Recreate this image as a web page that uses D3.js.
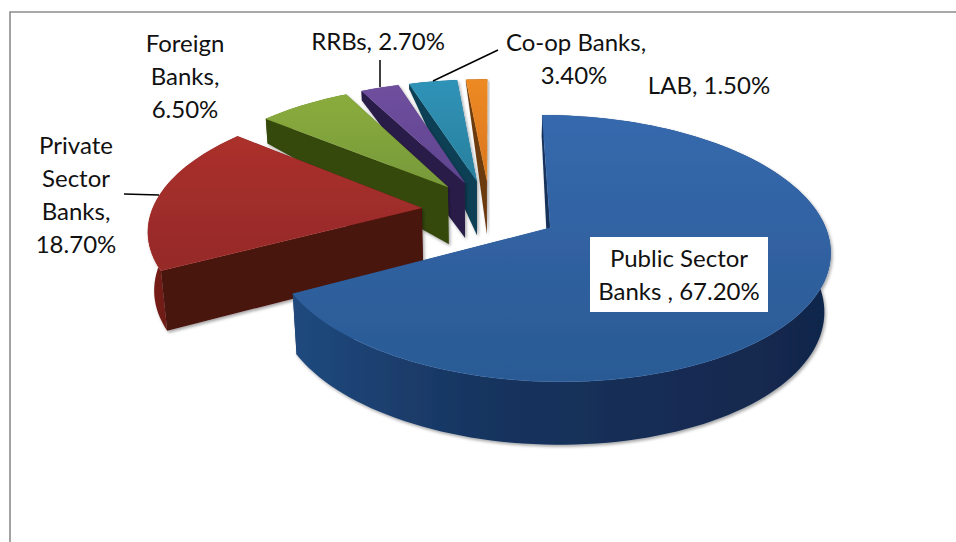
<!DOCTYPE html>
<html>
<head>
<meta charset="utf-8">
<script src="https://cdnjs.cloudflare.com/ajax/libs/d3/7.8.5/d3.min.js"></script>
<style>
  html, body { margin: 0; padding: 0; background: #fff; }
  svg { display: block; }
  text { font-family: Lato, "Open Sans", sans-serif; font-size: 24px; fill: #111; text-anchor: middle; }
</style>
</head>
<body>
<svg id="chart" width="956" height="542"></svg>
<script>
// Banking-sector shares, in percent
const categories = ["Public Sector Banks", "Private Sector Banks", "Foreign Banks", "RRBs", "Co-op Banks", "LAB"];
const shares = [67.2, 18.7, 6.5, 2.7, 3.4, 1.5];

// Slice colours: top face light/dark, side wall, rim wall start/end
const topLight = ["#3669ad", "#ab302c", "#8aac3c", "#6f4f9e", "#2f93b8", "#ee8a24"];
const topDark  = ["#2a5a94", "#952a28", "#77993a", "#5f4490", "#2a7f9c", "#d9761e"];
const sideFill = ["#17325a", "#4a120d", "#36480f", "#2b1d4a", "#0e4054", "#6c3a0c"];
const rimStart = ["#204a7e", "#7a1e19", "#4c6318", "#3b2a63", "#16566e", "#8a4c10"];
const rimEnd   = ["#11264a", "#561410", "#36480f", "#2b1d4a", "#0e4054", "#6c3a0c"];

// Label text, one entry per line
const labelLines = [
  ["Public Sector", "Banks , 67.20%"],
  ["Private", "Sector", "Banks,", "18.70%"],
  ["Foreign", "Banks,", "6.50%"],
  ["RRBs, 2.70%"],
  ["Co-op Banks,", "3.40%"],
  ["LAB, 1.50%"]
];

const svg = d3.select("#chart");
const defs = svg.append("defs");

// Perspective model of the tilted disc: unit-radius coordinates to screen pixels
const view = { ox: 490, oy: 211, rx: 270, ry: 125, k: 0.152, explode: 0.255 };
const thickness = y => Math.max(0, y > 0.2 ? 57 - 51.4 * (y - 0.2) : 57 + (0.2 - y) * 4.5);

function project(x, y, lower) {
  const w = 1 + view.k * y;
  let sx = view.ox + view.rx * x / w;
  let sy = view.oy - view.ry * y / w;
  if (lower) {
    const d = thickness(y);
    sy += d;
    sx = view.ox + (sx - view.ox) * (1 - 0.018 * d / 57);
  }
  return [sx, sy];
}

const pie = d3.pie().value(d => d).sort(null);
const arcs = pie(shares).map((a, i) => ({ ...a, i }));
const outline = d3.line();

const shadow = defs.append("filter").attr("id", "soft-shadow")
  .attr("x", "-10%").attr("y", "-10%").attr("width", "120%").attr("height", "125%");
shadow.append("feDropShadow").attr("dx", 1.5).attr("dy", 2)
  .attr("stdDeviation", 1.6).attr("flood-color", "#000").attr("flood-opacity", 0.35);

arcs.forEach(a => {
  const t = defs.append("linearGradient").attr("id", `top-${a.i}`)
    .attr("x1", 0).attr("y1", 0).attr("x2", 0).attr("y2", 1);
  t.append("stop").attr("offset", 0).attr("stop-color", topLight[a.i]);
  t.append("stop").attr("offset", 1).attr("stop-color", topDark[a.i]);
  const r = defs.append("linearGradient").attr("id", `rim-${a.i}`)
    .attr("x1", 0).attr("y1", 0).attr("x2", 1).attr("y2", 0);
  r.append("stop").attr("offset", 0).attr("stop-color", rimStart[a.i]);
  r.append("stop").attr("offset", 0.35).attr("stop-color", d3.interpolateRgb(rimStart[a.i], rimEnd[a.i])(0.6));
  r.append("stop").attr("offset", 1).attr("stop-color", rimEnd[a.i]);
});

// Back slices are painted first so the front ones overlap them
arcs.slice().reverse().forEach(a => {
  const mid = (a.startAngle + a.endAngle) / 2;
  const cx = view.explode * Math.sin(mid);
  const cy = view.explode * Math.cos(mid);
  const steps = d3.range(0, 1.0001, 1 / Math.max(8, Math.ceil((a.endAngle - a.startAngle) * 30)));
  const rim = steps.map(s => {
    const t = a.startAngle + s * (a.endAngle - a.startAngle);
    return [cx + Math.sin(t), cy + Math.cos(t)];
  });
  const up = p => project(p[0], p[1], false);
  const down = p => project(p[0], p[1], true);
  const apex = [cx, cy];
  const first = rim[0], last = rim[rim.length - 1];

  const g = svg.append("g").attr("class", "slice").attr("filter", "url(#soft-shadow)");
  // hidden end wall, curved rim wall, visible start wall, then the top face
  g.append("path").attr("fill", sideFill[a.i])
    .attr("d", outline([up(apex), up(last), down(last), down(apex)]) + "Z");
  g.append("path").attr("fill", `url(#rim-${a.i})`)
    .attr("d", outline(rim.map(up).concat(rim.slice().reverse().map(down))) + "Z");
  g.append("path").attr("fill", sideFill[a.i])
    .attr("d", outline([up(apex), up(first), down(first), down(apex)]) + "Z");
  g.append("path").attr("fill", `url(#top-${a.i})`)
    .attr("stroke", d3.color(topLight[a.i]).brighter(0.4)).attr("stroke-opacity", 0.35).attr("stroke-width", 0.6)
    .attr("d", outline([up(apex)].concat(rim.map(up))) + "Z");
});

// Chart frame: only the top and left edges fall inside the canvas
svg.append("path").attr("d", "M10,542V12H956")
  .attr("fill", "none").attr("stroke", "#8c8c8c").attr("stroke-width", 1.6);

// Leader lines
const leaders = [
  [[124, 194], [159, 195]],
  [[380, 60], [380, 87]],
  [[433, 81], [498, 50]]
];
svg.selectAll("path.leader").data(leaders).join("path").attr("class", "leader")
  .attr("d", d => outline(d)).attr("fill", "none").attr("stroke", "#000").attr("stroke-width", 1.5);

// White plate behind the label that sits on the largest slice
svg.append("rect").attr("x", 590).attr("y", 237).attr("width", 178).attr("height", 75).attr("fill", "#fff");

const labelAnchor = [[679, 267], [76, 154], [185, 52], [378, 50], [576, 51], [709, 94]];
const labelStep = 33;
labelLines.forEach((lines, i) => {
  const t = svg.append("text");
  lines.forEach((line, j) => {
    t.append("tspan").attr("x", labelAnchor[i][0] - (i === 4 && j === 1 ? 2 : 0)).attr("y", labelAnchor[i][1] + j * labelStep).text(line);
  });
});
</script>
</body>
</html>
